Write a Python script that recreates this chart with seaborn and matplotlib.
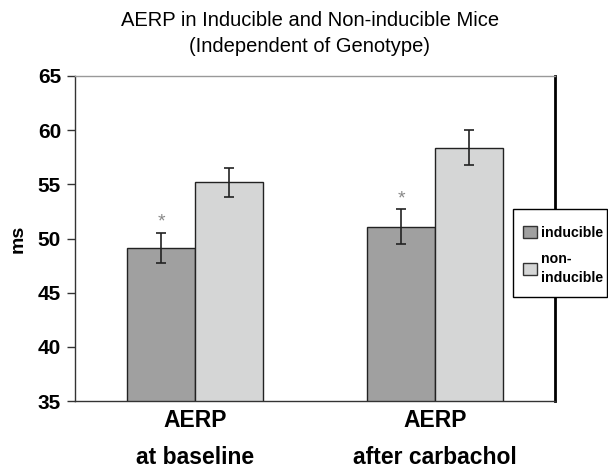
import matplotlib
matplotlib.use("Agg")
import matplotlib.pyplot as plt
import seaborn as sns
import pandas as pd
from matplotlib.patches import Patch, Rectangle

conditions = ["AERP\nat baseline", "AERP\nafter carbachol"]
groups = ["inducible", "non-\ninducible"]
inducible_means = [49.1, 51.1]
noninducible_means = [55.2, 58.4]
inducible_err = [1.4, 1.6]
noninducible_err = [1.35, 1.6]
yticks = [35, 40, 45, 50, 55, 60, 65]

sns.set_theme(style="white")
plt.rcParams['font.family'] = ['Liberation Sans', 'DejaVu Sans']
plt.rcParams['text.color'] = 'black'
plt.rcParams['xtick.color'] = 'black'
plt.rcParams['ytick.color'] = 'black'
plt.rcParams['axes.labelcolor'] = 'black'

df = pd.DataFrame({
    "condition": conditions * 2,
    "group": [groups[0]] * 2 + [groups[1]] * 2,
    "value": inducible_means + noninducible_means,
})
colors = ["#a0a0a0", "#d5d6d6"]

fig = plt.figure(figsize=(6.08, 4.69), dpi=100)
ax = fig.add_axes([75/608, 1-401/469, 480/608, 325/469])
sns.barplot(data=df, x="condition", y="value", hue="group", palette=colors,
            width=0.567, errorbar=None, edgecolor="#222222", linewidth=1.0,
            saturation=1, ax=ax, legend=False)

errs = inducible_err + noninducible_err
vals = inducible_means + noninducible_means
for i, p in enumerate(list(ax.patches)[:4]):
    xc = p.get_x() + p.get_width() / 2
    ax.errorbar(xc, vals[i], yerr=errs[i], fmt="none", ecolor="#222222",
                elinewidth=1.2, capsize=3.5, capthick=1.2, zorder=5)
    if i < 2:
        ax.text(xc, vals[i] + errs[i] + 0.2, "*", ha="center", va="bottom",
                fontsize=14, color="#888888")

ax.set_ylim(35, 65)
ax.set_xlim(-0.5, 1.5)
ax.set_yticks(yticks)
ax.set_yticklabels([str(t) for t in yticks], fontsize=15, fontweight="bold")
ax.tick_params(axis="y", direction="out", length=6, width=1, color="#333333", pad=4, left=True)
ax.tick_params(axis="x", length=0, pad=6)
for lbl in ax.get_xticklabels():
    lbl.set_fontsize(16.5)
    lbl.set_fontweight("bold")
    lbl.set_linespacing(1.75)
ax.set_xlabel("")
ax.set_ylabel("ms", fontsize=14, fontweight="bold", labelpad=8)

for s in ["left", "bottom"]:
    ax.spines[s].set_color("#333333")
    ax.spines[s].set_linewidth(1.0)
ax.spines["top"].set_color("#999999")
ax.spines["top"].set_linewidth(1.0)
ax.spines["right"].set_color("black")
ax.spines["right"].set_linewidth(2.0)

fig.text(310 / 608, 1 - 21/469, "AERP in Inducible and Non-inducible Mice",
         ha="center", va="center", fontsize=14.5)
fig.text(310 / 608, 1 - 46/469, "(Independent of Genotype)",
         ha="center", va="center", fontsize=14.5)

# legend box (frame drawn separately to match proportions)
fig.patches.append(Rectangle((513/608, 1 - 297/469), 94/608, 88/469,
                             transform=fig.transFigure, facecolor="white",
                             edgecolor="black", linewidth=1.0, zorder=10))
handles = [Patch(facecolor=colors[0], edgecolor="#333333", label=groups[0]),
           Patch(facecolor=colors[1], edgecolor="#333333", label=groups[1])]
leg = fig.legend(handles=handles, loc="upper left",
                 bbox_to_anchor=(519/608, 1 - 222/469), frameon=False,
                 prop={"weight": "bold", "size": 10.2},
                 handlelength=0.95, handleheight=0.95, handletextpad=0.3,
                 borderpad=0.3, labelspacing=0.8, borderaxespad=0)
for t in leg.get_texts():
    t.set_linespacing(1.45)
leg.set_zorder(11)

fig.savefig("out.png", dpi=100)
